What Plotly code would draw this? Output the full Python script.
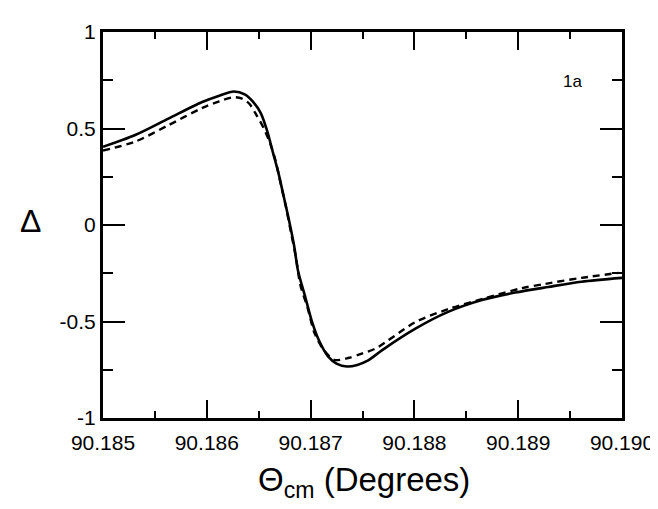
import plotly.graph_objects as go

# Solid curve (theta_cm in degrees, Delta)
solid_x = [90.18500, 90.18531, 90.18563, 90.18595, 90.18612, 90.18626, 90.18637,
           90.18645, 90.18652, 90.18658, 90.18664, 90.18669, 90.18674, 90.18679,
           90.18684, 90.18688, 90.18695, 90.18701, 90.18708, 90.18717, 90.18725,
           90.18735, 90.18745, 90.18755, 90.18769, 90.18801, 90.18833, 90.18865,
           90.18897, 90.18929, 90.18961, 90.19000]
solid_y = [0.405, 0.466, 0.551, 0.636, 0.670, 0.692, 0.675,
           0.635, 0.580, 0.490, 0.370, 0.270, 0.150, 0.030,
           -0.104, -0.240, -0.376, -0.495, -0.597, -0.682, -0.718,
           -0.733, -0.725, -0.703, -0.648, -0.537, -0.449, -0.389,
           -0.350, -0.321, -0.294, -0.274]

# Dashed curve
dash_x = [90.18500, 90.18531, 90.18563, 90.18595, 90.18612, 90.18626, 90.18634,
          90.18641, 90.18648, 90.18655, 90.18661, 90.18666, 90.18671, 90.18676,
          90.18681, 90.18686, 90.18690, 90.18697, 90.18704, 90.18713, 90.18723,
          90.18737, 90.18750, 90.18763, 90.18801, 90.18833, 90.18868, 90.18903,
          90.18926, 90.18961, 90.18997]
dash_y = [0.386, 0.432, 0.517, 0.605, 0.641, 0.662, 0.655,
          0.628, 0.568, 0.500, 0.423, 0.338, 0.219, 0.100,
          -0.036, -0.172, -0.308, -0.427, -0.563, -0.650, -0.699,
          -0.688, -0.665, -0.639, -0.503, -0.435, -0.379, -0.328,
          -0.305, -0.274, -0.248]

x_ticks = [90.185, 90.186, 90.187, 90.188, 90.189, 90.190]
x_labels = ["90.185", "90.186", "90.187", "90.188", "90.189", "90.190"]
y_ticks = [-1, -0.5, 0, 0.5, 1]
y_labels = ["-1", "-0.5", "0", "0.5", "1"]

FONT = "Liberation Sans, Arial, sans-serif"

fig = go.Figure()
fig.add_trace(go.Scatter(x=solid_x, y=solid_y, mode="lines",
                         line=dict(color="black", width=2.6, shape="spline", smoothing=0.8),
                         showlegend=False))
fig.add_trace(go.Scatter(x=dash_x, y=dash_y, mode="lines",
                         line=dict(color="black", width=2.4, dash="7px,5px", shape="spline", smoothing=0.8),
                         showlegend=False))

fig.update_layout(
    width=658, height=509,
    margin=dict(l=95, r=41, t=20, b=99),
    paper_bgcolor="white", plot_bgcolor="white",
    font=dict(family=FONT, color="black", size=21),
    showlegend=False,
)
fig.update_xaxes(
    range=[90.185, 90.190], tickvals=x_ticks, ticktext=x_labels,
    showgrid=False, zeroline=False,
    showline=True, linecolor="black", linewidth=3, mirror="ticks",
    ticks="inside", ticklen=18, tickwidth=2, tickcolor="black",
    minor=dict(dtick=0.0005, ticks="inside", ticklen=7, tickwidth=2, tickcolor="black"),
    tickfont=dict(size=21), ticklabelstandoff=4,
)
fig.update_yaxes(
    range=[-1, 1], tickvals=y_ticks, ticktext=y_labels,
    showgrid=False, zeroline=False,
    showline=True, linecolor="black", linewidth=3, mirror="ticks",
    ticks="inside", ticklen=22, tickwidth=2, tickcolor="black",
    minor=dict(dtick=0.25, ticks="inside", ticklen=10, tickwidth=2, tickcolor="black"),
    tickfont=dict(size=21),
)

fig.add_annotation(text="Δ", xref="paper", yref="paper", x=-0.14, y=0.51,
                   xanchor="center", yanchor="middle", showarrow=False,
                   font=dict(size=32, family=FONT))
fig.add_annotation(text="Θ<sub>cm</sub> (Degrees)", xref="paper", yref="paper",
                   x=0.502, y=-0.167, xanchor="center", yanchor="middle",
                   showarrow=False, font=dict(size=33, family=FONT))
fig.add_annotation(text="1a", xref="paper", yref="paper", x=0.904, y=0.872,
                   xanchor="center", yanchor="middle", showarrow=False,
                   font=dict(size=17, family=FONT))

fig.write_html("out.html")
